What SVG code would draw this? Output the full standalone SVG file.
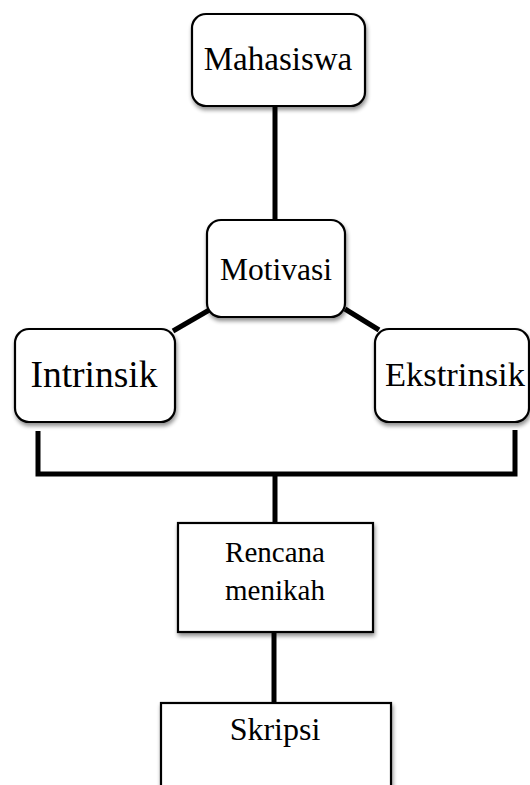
<svg xmlns="http://www.w3.org/2000/svg" width="530" height="785" viewBox="0 0 530 785">
<defs>
<filter id="sh" x="-10%" y="-10%" width="130%" height="130%">
<feGaussianBlur in="SourceAlpha" stdDeviation="2"/>
<feOffset dx="1" dy="3" result="b"/>
<feComponentTransfer><feFuncA type="linear" slope="0.45"/></feComponentTransfer>
<feMerge><feMergeNode/><feMergeNode in="SourceGraphic"/></feMerge>
</filter>
</defs>
<style>
.box{fill:#fff;stroke:#000;stroke-width:2.2;filter:url(#sh)}
.lbl{font-family:"Liberation Serif","Times New Roman",serif;fill:#000;text-anchor:middle}
.con{stroke:#000;stroke-width:5;fill:none;stroke-linecap:butt}
</style>
<g id="connectors">
<line class="con" x1="275" y1="106" x2="275" y2="220"/>
<line class="con" x1="173" y1="331" x2="211" y2="309"/>
<line class="con" x1="345" y1="309" x2="379" y2="330"/>
<polyline class="con" points="38,431 38,474 515,474 515,430"/>
<line class="con" x1="275" y1="474" x2="275" y2="523"/>
<line class="con" x1="274" y1="632" x2="274" y2="703"/>
</g>
<g id="mahasiswa">
<rect class="box" x="192" y="14" width="173" height="92" rx="14"/>
<text class="lbl" x="278" y="70" font-size="33">Mahasiswa</text>
</g>
<g id="motivasi">
<rect class="box" x="207" y="220" width="138" height="97" rx="14"/>
<text class="lbl" x="276" y="280" font-size="31.5">Motivasi</text>
</g>
<g id="intrinsik">
<rect class="box" x="15" y="329" width="160" height="93" rx="14"/>
<text class="lbl" x="94" y="387" font-size="37.5">Intrinsik</text>
</g>
<g id="ekstrinsik">
<rect class="box" x="375" y="329" width="154" height="93" rx="14"/>
<text class="lbl" x="455" y="386" font-size="34.5">Ekstrinsik</text>
</g>
<g id="rencana">
<rect class="box" x="178" y="523" width="195" height="109"/>
<text class="lbl" x="275" y="562" font-size="29">Rencana</text>
<text class="lbl" x="275" y="600" font-size="29">menikah</text>
</g>
<g id="skripsi">
<rect class="box" x="161" y="703" width="230" height="100"/>
<text class="lbl" x="275" y="740" font-size="32">Skripsi</text>
</g>
</svg>
